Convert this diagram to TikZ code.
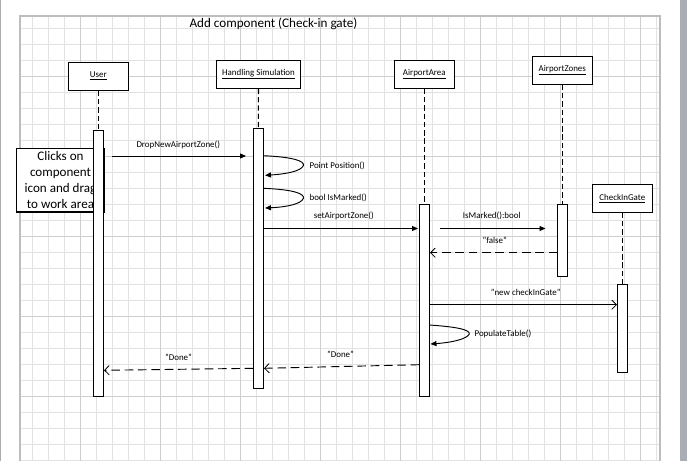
\documentclass[tikz,border=0pt]{standalone}
\usepackage{fontspec}
\setmainfont{Carlito}
\usetikzlibrary{arrows.meta}
\definecolor{gridminor}{HTML}{E2E2E2}
\definecolor{gridmajor}{HTML}{CECECE}
\definecolor{gridborder}{HTML}{BDBDBD}
\definecolor{sidebar}{HTML}{A9ADB5}
\tikzset{
  lbl/.style={font=\fontsize{6.7pt}{8pt}\selectfont, inner sep=0pt},
  objbox/.style={draw=black, fill=white, line width=0.8pt, minimum width=45pt, minimum height=21pt, inner sep=0pt, font=\fontsize{6.7pt}{8pt}\selectfont},
  actbar/.style={draw=black, fill=white, line width=0.8pt, minimum width=7.5pt, inner sep=0pt},
  lifeline/.style={line width=0.8pt, dash pattern=on 4pt off 2.2pt},
  syncmsg/.style={line width=0.7pt, -{Triangle[length=4.5pt,width=3.8pt]}},
  openmsg/.style={line width=0.7pt, -{Straight Barb[length=3.5pt,width=7pt,line width=0.6pt]}},
  retmsg/.style={line width=0.7pt, dash pattern=on 6.5pt off 3.5pt, -{Straight Barb[length=3.5pt,width=7pt,line width=0.6pt]}},
}
\begin{document}
\begin{tikzpicture}[x=0.75pt, y=-0.75pt]
\useasboundingbox (0,0) rectangle (687,461);
\fill[white] (0,0) rectangle (687,461);
% side bars
\fill[sidebar] (0,0) rectangle (1.5,461);
\fill[sidebar] (680,0) rectangle (687,461);
% grid
\begin{scope}
\clip (20,16) rectangle (660,461);
\foreach \gx in {32,48,...,656} {\draw[gridminor, line width=0.6pt] (\gx,16) -- (\gx,461);}
\foreach \gy in {28,44,...,460} {\draw[gridminor, line width=0.6pt] (20,\gy) -- (660,\gy);}
\foreach \gx in {80,160,...,640} {\draw[gridmajor, line width=0.6pt] (\gx,16) -- (\gx,461);}
\foreach \gy in {76,156,...,396} {\draw[gridmajor, line width=0.6pt] (20,\gy) -- (660,\gy);}
\end{scope}
\draw[gridborder, line width=0.8pt] (20,461) -- (20,16) -- (660,16) -- (660,461);

% title
\node[font=\fontsize{9.85pt}{12pt}\selectfont, inner sep=0pt] (title) at (273.5,23.5) {Add component (Check-in gate)};

% object boxes
\node[objbox] (user) at (98.3,76.3) {\underline{User}};
\node[objbox, minimum width=62.7pt] (hs) at (258.5,74.3) {\underline{Handling Simulation}};
\node[objbox] (aa) at (424.3,74.3) {\underline{AirportArea}};
\node[objbox] (az) at (562.3,70.3) {\underline{AirportZones}};
\node[objbox] (cig) at (622.3,198.3) {\underline{CheckInGate}};

% activation bar tops (for lifelines)
\coordinate (useractN) at (98.3,130.3);
\coordinate (hsactN) at (258.3,128.3);
\coordinate (aaactN) at (424.3,204.3);
\coordinate (azactN) at (562.3,204.3);
\coordinate (cigactN) at (622.3,284.3);

% lifelines
\draw[lifeline] (user.south) -- (useractN);
\draw[lifeline] (hs.south) -- (hsactN);
\draw[lifeline] (aa.south) -- (aaactN);
\draw[lifeline] (az.south) -- (azactN);
\draw[lifeline] (cig.south) -- (cigactN);

% note box
\node[draw=black, fill=white, line width=0.9pt, minimum width=65.7pt, minimum height=47.8pt, inner sep=0pt,
      font=\fontsize{9.8pt}{12pt}\selectfont, align=center] (note) at (60.5,180.2)
  {Clicks on\\component\\icon and drag\\to work area};

% activation bars
\node[actbar, minimum height=199.5pt] (useract) at (98.3,263.3) {};
\node[actbar, minimum height=195pt] (hsact) at (258.3,258.3) {};
\node[actbar, minimum height=144pt] (aaact) at (424.3,300.3) {};
\node[actbar, minimum height=54pt] (azact) at (562.3,240.3) {};
\node[actbar, minimum height=66pt] (cigact) at (622.3,328.3) {};

% message endpoints
\coordinate (m1s) at (112.3,156);   \coordinate (m1e) at (246,156);
\coordinate (m2s) at (263.3,155.7); \coordinate (m2a) at (303.3,165.7); \coordinate (m2e) at (265,175.3);
\coordinate (m3s) at (263.3,188.3); \coordinate (m3a) at (303.3,198.5); \coordinate (m3e) at (265,208);
\coordinate (m4s) at (263.3,228.5); \coordinate (m4e) at (418,228.5);
\coordinate (m5s) at (440,228.5);   \coordinate (m5e) at (545.5,228.5);
\coordinate (m6s) at (557.3,252.7); \coordinate (m6e) at (430,252.7);
\coordinate (m7s) at (429.3,304.7); \coordinate (m7e) at (617,304.7);
\coordinate (m8s) at (429.3,325);   \coordinate (m8a) at (469.3,334); \coordinate (m8e) at (430.5,344);
\coordinate (m9s) at (419.3,364.7); \coordinate (m9e) at (264,368.3);
\coordinate (m10s) at (253.3,368.3); \coordinate (m10e) at (104,370.3);

% messages
\draw[syncmsg] (m1s) -- (m1e);
\node[lbl] (l1) at (178.3,145.3) {DropNewAirportZone()};

\draw[syncmsg] (m2s) .. controls (293,157) and (305,161) .. (m2a) .. controls (301,171) and (287,174) .. (m2e);
\node[lbl, anchor=west] (l2) at (309.3,166) {Point Position()};

\draw[syncmsg] (m3s) .. controls (293,189.5) and (305,193.5) .. (m3a) .. controls (301,204) and (287,207) .. (m3e);
\node[lbl, anchor=west] (l3) at (309.3,197.5) {bool IsMarked()};

\draw[syncmsg] (m4s) -- (m4e);
\node[lbl] (l4) at (343.8,216) {setAirportZone()};

\draw[syncmsg] (m5s) -- (m5e);
\node[lbl] (l5) at (491.8,216.3) {IsMarked():bool};

\draw[retmsg] (m6s) -- (m6e);
\node[lbl] (l6) at (494.7,240) {"false"};

\draw[openmsg] (m7s) -- (m7e);
\node[lbl] (l7) at (525.8,292) {"new checkInGate"};

\draw[syncmsg] (m8s) .. controls (459,327) and (470,330) .. (m8a) .. controls (467,339) and (452,342.5) .. (m8e);
\node[lbl, anchor=west] (l8) at (474.3,334) {PopulateTable()};

\draw[retmsg] (m9s) -- (m9e);
\node[lbl] (l9) at (340.5,354.3) {"Done"};

\draw[retmsg] (m10s) -- (m10e);
\node[lbl] (l10) at (178.5,357) {"Done"};
\end{tikzpicture}
\end{document}
